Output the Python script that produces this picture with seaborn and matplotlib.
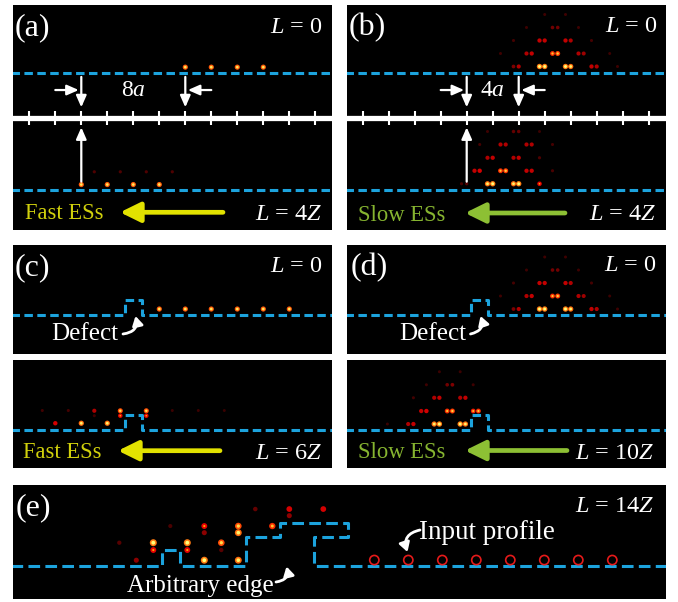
import numpy as np
import pandas as pd
import matplotlib
matplotlib.use("Agg")
import matplotlib.pyplot as plt
import seaborn as sns
from matplotlib.colors import LinearSegmentedColormap

sns.set_theme(style="white")
plt.rcParams["font.family"] = ["Liberation Serif", "DejaVu Serif"]
plt.rcParams["mathtext.fontset"] = "custom"
plt.rcParams["mathtext.rm"] = "Liberation Serif"
plt.rcParams["mathtext.it"] = "Liberation Serif:italic"
plt.rcParams["lines.scale_dashes"] = False

# ================= DATA (lattice units a, edge line at y = 0) =================
ruler_ticks = [0, 2, 4, 6, 8, 10, 12, 14, 16, 18, 20, 22]
flat_edge_x = [-1.4, 23.4]
flat_edge_y = [0.0, 0.0]

# (a) fast edge states
fast_L0_x = [12, 14, 16, 18]
fast_L0_y = [0.45, 0.45, 0.45, 0.45]
fast_L0_I = [0.9, 0.9, 0.9, 0.9]
fast_L4_x = [4, 6, 8, 10, 5, 7, 9, 11]
fast_L4_y = [0.42, 0.42, 0.42, 0.42, 1.4, 1.4, 1.4, 1.4]
fast_L4_I = [0.9, 0.9, 0.9, 0.9, 0.12, 0.12, 0.12, 0.12]
fast_sep = [4, 12]          # 8a

# (b) slow edge states
slow_L0_x = [11.6, 12.0, 13.6, 14.0, 15.6, 16.0, 17.6, 18.0, 19.6,
             12.6, 13.0, 14.6, 15.0, 16.6, 17.0, 10.6, 19.0,
             13.6, 14.0, 15.6, 16.0, 11.6, 17.6,
             14.6, 15.0, 12.6, 16.6,
             14.0, 15.6]
slow_L0_y = [0.5] * 9 + [1.5] * 8 + [2.5] * 6 + [3.5] * 4 + [4.5] * 2
slow_L0_I = [0.3, 0.45, 1.0, 1.0, 1.0, 0.95, 0.5, 0.45, 0.06,
             0.45, 0.5, 0.75, 0.8, 0.45, 0.4, 0.06, 0.05,
             0.5, 0.5, 0.5, 0.45, 0.08, 0.08,
             0.25, 0.25, 0.06, 0.06,
             0.06, 0.06]
slow_L4_x = [7.6, 8.0, 9.6, 10.0, 11.6, 12.0, 13.6,
             8.6, 9.0, 10.6, 11.0, 12.6, 13.0, 14.6,
             9.6, 10.0, 11.6, 12.0, 13.6,
             10.6, 11.0, 12.6, 13.0, 9.0, 14.6,
             11.6, 12.0, 9.6, 13.6]
slow_L4_y = [0.48] * 7 + [1.48] * 7 + [2.48] * 5 + [3.5] * 6 + [4.5] * 4
slow_L4_I = [0.1, 0.15, 0.95, 1.0, 0.95, 1.0, 0.6,
             0.5, 0.55, 0.75, 0.8, 0.5, 0.5, 0.1,
             0.45, 0.5, 0.45, 0.5, 0.12,
             0.45, 0.45, 0.45, 0.45, 0.08, 0.08,
             0.2, 0.2, 0.06, 0.05]
slow_sep = [8, 12]          # 4a

# (c) fast edge states with a defect
defect_c_x = [-1.4, 7.35, 7.35, 8.65, 8.65, 23.4]
defect_c_y = [0.0, 0.0, 1.17, 1.17, 0.0, 0.0]
fastdef_L0_x = [10, 12, 14, 16, 18, 20]
fastdef_L0_y = [0.46] * 6
fastdef_L0_I = [0.9] * 6
fastdef_L6_x = [2, 4, 6, 7, 9, 7, 9, 5, 1, 3, 5, 11, 13, 15]
fastdef_L6_y = [0.52, 0.52, 0.52, 1.1, 1.1, 1.48, 1.48, 1.48, 1.5, 1.5, 1.1, 1.5, 1.5, 1.5]
fastdef_L6_I = [0.55, 0.95, 0.95, 0.6, 0.6, 0.85, 0.85, 0.45, 0.07, 0.08, 0.06, 0.05, 0.05, 0.04]

# (d) slow edge states with a defect
defect_d_x = [-1.4, 8.3, 8.3, 9.67, 9.67, 23.4]
defect_d_y = [0.0, 0.0, 1.18, 1.18, 0.0, 0.0]
slowdef_L10_x = [3.5, 3.9, 5.5, 5.9, 7.5, 7.9, 1.9,
                 4.5, 4.9, 6.5, 6.9, 8.5, 8.9,
                 5.5, 5.9, 7.5, 7.9, 3.9,
                 6.5, 6.9, 4.9, 8.5,
                 5.9, 7.5]
slowdef_L10_y = [0.46] * 7 + [1.46] * 6 + [2.48] * 5 + [3.48] * 4 + [4.48] * 2
slowdef_L10_I = [0.45, 0.5, 0.95, 1.0, 1.0, 0.95, 0.05,
                 0.5, 0.55, 0.75, 0.8, 0.7, 0.75,
                 0.45, 0.5, 0.45, 0.5, 0.08,
                 0.25, 0.3, 0.06, 0.06,
                 0.05, 0.05]

# (e) arbitrary edge (lattice units of panel e)
arb_edge_x = [-1.4, 7.5, 7.5, 8.55, 8.55, 12.45, 12.45, 14.45, 14.45, 18.45, 18.45, 16.45, 16.45, 37.3]
arb_edge_y = [0.0, 0.0, 0.95, 0.95, 0.0, 0.0, 1.7, 1.7, 2.55, 2.55, 1.7, 1.7, 0.0, 0.0]
arb_L14_x = [7, 7, 6, 5, 9, 9, 10, 10, 10, 11, 11, 12, 12, 12, 13, 14, 15, 15, 17, 8]
arb_L14_y = [1.37, 0.94, 0.34, 1.37, 1.37, 0.94, 2.35, 1.96, 0.34, 1.37, 0.94,
             2.35, 1.96, 0.34, 3.35, 2.35, 3.35, 2.96, 3.35, 2.35]
arb_L14_I = [1.0, 0.6, 0.35, 0.15, 1.0, 0.6, 0.6, 0.35, 1.0, 0.85, 0.15,
             0.85, 0.95, 0.95, 0.2, 0.75, 0.55, 0.35, 0.55, 0.1]
input_x = [20, 22, 24, 26, 28, 30, 32, 34]
input_y = [0.35] * 8

# ================= STYLE =================
W, H = 678, 602
EDGE = "#1ca3dd"
YEL_T, YEL_A = "#d0d00c", "#e2e200"
GRN_T, GRN_A = "#86b430", "#8dc034"
outer_cmap = LinearSegmentedColormap.from_list(
    "outer", [(0, "#300000"), (0.35, "#8c0000"), (0.6, "#e60000"), (0.8, "#ff3a00"), (1, "#ff7a10")])
inner_cmap = LinearSegmentedColormap.from_list("inner", ["#ffa000", "#ffff78"])

fig = plt.figure(figsize=(W / 100, H / 100), dpi=100, facecolor="white")


def panel(l, t, r, b, x0, y0, unit):
    ax = fig.add_axes([l / W, 1 - b / H, (r - l) / W, (b - t) / H])
    lims = ((l - x0) / unit, (r - x0) / unit), ((y0 - b) / unit, (y0 - t) / unit)
    ax.set_facecolor("black")
    return ax, lims


def finish(ax, lims):
    ax.set_xlim(*lims[0])
    ax.set_ylim(*lims[1])
    ax.set(xlabel=None, ylabel=None, xticks=[], yticks=[])
    for s in ax.spines.values():
        s.set_visible(False)


def edge(ax, x, y, dash, dy=0.0):
    sns.lineplot(x=x, y=np.asarray(y, float) + dy, sort=False, estimator=None,
                 color=EDGE, linewidth=2.2, linestyle=(0, dash), ax=ax, zorder=2)


def glow(ax, x, y, I, scale=1.0, dy=0.0):
    df = pd.DataFrame({"x": x, "y": np.asarray(y, float) + dy, "I": I})
    sns.scatterplot(data=df, x="x", y="y", hue="I", palette=outer_cmap, hue_norm=(0, 1),
                    size="I", sizes=(4 * scale, 15 * scale), size_norm=(0, 1),
                    linewidth=0, legend=False, ax=ax, zorder=3)
    core = df[df["I"] >= 0.6]
    if len(core):
        sns.scatterplot(data=core, x="x", y="y", hue="I", palette=inner_cmap, hue_norm=(0.6, 1),
                        size="I", sizes=(1.5 * scale, 4.5 * scale), size_norm=(0.6, 1),
                        linewidth=0, legend=False, ax=ax, zorder=4)


def white_arrow(ax, x0, y0, x1, y1):
    ax.annotate("", xy=(x1, y1), xytext=(x0, y0),
                arrowprops=dict(arrowstyle="-|>,head_length=0.5,head_width=0.22", color="white",
                                lw=1.6, mutation_scale=14, shrinkA=0, shrinkB=0), zorder=5)


def ruler(ax, ybar):
    sns.lineplot(x=flat_edge_x, y=[ybar, ybar], color="white", linewidth=3.8, ax=ax, zorder=4)
    ax.vlines(ruler_ticks, ybar - 0.54, ybar + 0.54, colors="white", lw=1.5, zorder=4)


DASH = (6.1, 3.2)
UPPER = 9.0      # upper strip edge in panels (a), (b)
BAR = 5.54       # white ruler

# ---------------- (a) ----------------
ax, lims = panel(13, 5, 332, 230, 29.3, 190, 13)
edge(ax, flat_edge_x, flat_edge_y, DASH, dy=UPPER)
edge(ax, flat_edge_x, flat_edge_y, DASH)
glow(ax, fast_L0_x, fast_L0_y, fast_L0_I, dy=UPPER)
glow(ax, fast_L4_x, fast_L4_y, fast_L4_I)
ruler(ax, BAR)
for xs in fast_sep:
    white_arrow(ax, xs, 8.7, xs, 6.36)
white_arrow(ax, fast_sep[0] - 2.0, 7.69, fast_sep[0] - 0.2, 7.69)
white_arrow(ax, fast_sep[1] + 2.0, 7.69, fast_sep[1] + 0.2, 7.69)
white_arrow(ax, fast_sep[0], 0.64, fast_sep[0], 4.82)
ax.text(np.mean(fast_sep), 7.69, r"8$a$", color="white", fontsize=17, ha="center", va="center")
finish(ax, lims)

# ---------------- (b) ----------------
ax, lims = panel(347, 5, 666, 230, 362.7, 190, 13)
edge(ax, flat_edge_x, flat_edge_y, DASH, dy=UPPER)
edge(ax, flat_edge_x, flat_edge_y, DASH)
glow(ax, slow_L0_x, slow_L0_y, slow_L0_I, dy=UPPER)
glow(ax, slow_L4_x, slow_L4_y, slow_L4_I)
ruler(ax, BAR)
for xs in slow_sep:
    white_arrow(ax, xs, 8.7, xs, 6.36)
white_arrow(ax, slow_sep[0] - 2.0, 7.69, slow_sep[0] - 0.2, 7.69)
white_arrow(ax, slow_sep[1] + 2.0, 7.69, slow_sep[1] + 0.2, 7.69)
white_arrow(ax, slow_sep[0], 0.64, slow_sep[0], 4.82)
ax.text(np.mean(slow_sep), 7.69, r"4$a$", color="white", fontsize=17, ha="center", va="center")
finish(ax, lims)

# ---------------- (c) ----------------
ax, lims = panel(13, 245, 332, 354, 29.3, 315, 13)
edge(ax, defect_c_x, defect_c_y, DASH)
glow(ax, fastdef_L0_x, fastdef_L0_y, fastdef_L0_I)
finish(ax, lims)
ax, lims = panel(13, 360, 332, 468, 29.3, 430, 13)
edge(ax, defect_c_x, defect_c_y, DASH)
glow(ax, fastdef_L6_x, fastdef_L6_y, fastdef_L6_I)
finish(ax, lims)

# ---------------- (d) ----------------
ax, lims = panel(347, 245, 666, 354, 362.7, 315, 13)
edge(ax, defect_d_x, defect_d_y, DASH)
glow(ax, slow_L0_x, slow_L0_y, slow_L0_I, dy=-0.04)
finish(ax, lims)
ax, lims = panel(347, 360, 666, 468, 362.7, 430, 13)
edge(ax, defect_d_x, defect_d_y, DASH)
glow(ax, slowdef_L10_x, slowdef_L10_y, slowdef_L10_I)
finish(ax, lims)

# ---------------- (e) ----------------
ax, lims = panel(13, 485, 666, 599, 34.3, 566, 17)
edge(ax, arb_edge_x, arb_edge_y, (8.4, 3.8))
glow(ax, arb_L14_x, arb_L14_y, arb_L14_I, scale=1.7)
sns.scatterplot(x=input_x, y=input_y, s=44, marker="o", facecolor="none",
                edgecolor="#e51a1a", linewidth=1.2, ax=ax, zorder=5)
ax.collections[-1].set_facecolor("none")
finish(ax, lims)

# ---------------- overlay: labels and annotation arrows (pixel coords) ----------------
ov = fig.add_axes([0, 0, 1, 1], zorder=10)
ov.set_xlim(0, W)
ov.set_ylim(H, 0)
ov.axis("off")


def txt(s, x, y, size, color="white", ha="left"):
    ov.text(x, y, s, fontsize=size, color=color, ha=ha, va="baseline")


def arr(x0, y0, x1, y1, color, lw, ms, hl, hw, rad=0.0):
    ov.annotate("", xy=(x1, y1), xytext=(x0, y0),
                arrowprops=dict(arrowstyle=f"-|>,head_length={hl},head_width={hw}", color=color,
                                lw=lw, mutation_scale=ms, shrinkA=0, shrinkB=0,
                                connectionstyle=f"arc3,rad={rad}"))


PL, LS, LB = 23, 17.5, 17.5
txt("(a)", 14.5, 35.5, PL)
txt("(b)", 349, 35.5, PL)
txt("(c)", 15, 275.5, PL)
txt("(d)", 351, 275.5, PL)
txt("(e)", 16, 515.5, PL)
txt(r"$L$ = 0", 322.7, 32.7, LS, ha="right")
txt(r"$L$ = 0", 657.3, 31.7, LS, ha="right")
txt(r"$L$ = 0", 322.7, 271.7, LS, ha="right")
txt(r"$L$ = 0", 656.7, 270.7, LS, ha="right")
txt(r"$L$ = 4$Z$", 322.7, 220, LB, ha="right")
txt(r"$L$ = 4$Z$", 656.7, 220, LB, ha="right")
txt(r"$L$ = 6$Z$", 322.7, 459, LB, ha="right")
txt(r"$L$ = 10$Z$", 655, 459.3, LB, ha="right")
txt(r"$L$ = 14$Z$", 655, 511.7, LB, ha="right")
txt("Fast ESs", 25, 219, 16.3, color=YEL_T)
txt("Fast ESs", 22.7, 458.3, 16.3, color=YEL_T)
txt("Slow ESs", 358.3, 220.7, 16.3, color=GRN_T)
txt("Slow ESs", 358.3, 458.3, 16.3, color=GRN_T)
txt("Defect", 51.7, 340, 18)
txt("Defect", 399.3, 340, 18)
txt("Input profile", 419, 539.3, 19.5)
txt("Arbitrary edge", 126.7, 591.7, 18)

arr(223, 212.3, 120, 212.3, YEL_A, 3.4, 20, 0.61, 0.3)
arr(565, 213, 465, 213, GRN_A, 3.4, 20, 0.61, 0.3)
arr(220, 450.7, 118, 450.7, YEL_A, 3.4, 20, 0.61, 0.3)
arr(567, 450.5, 465, 450.5, GRN_A, 3.4, 20, 0.61, 0.3)

arr(123, 334, 135.5, 316, "white", 2.0, 9, 0.6, 0.35, rad=0.55)
arr(470.5, 334, 480.5, 316, "white", 2.0, 9, 0.6, 0.35, rad=0.55)
arr(276, 582, 286.5, 566.5, "white", 2.0, 9, 0.6, 0.35, rad=0.55)
arr(420, 530, 407.5, 552, "white", 2.0, 9, 0.6, 0.35, rad=0.55)

fig.savefig("out.png", dpi=100, facecolor="white")
